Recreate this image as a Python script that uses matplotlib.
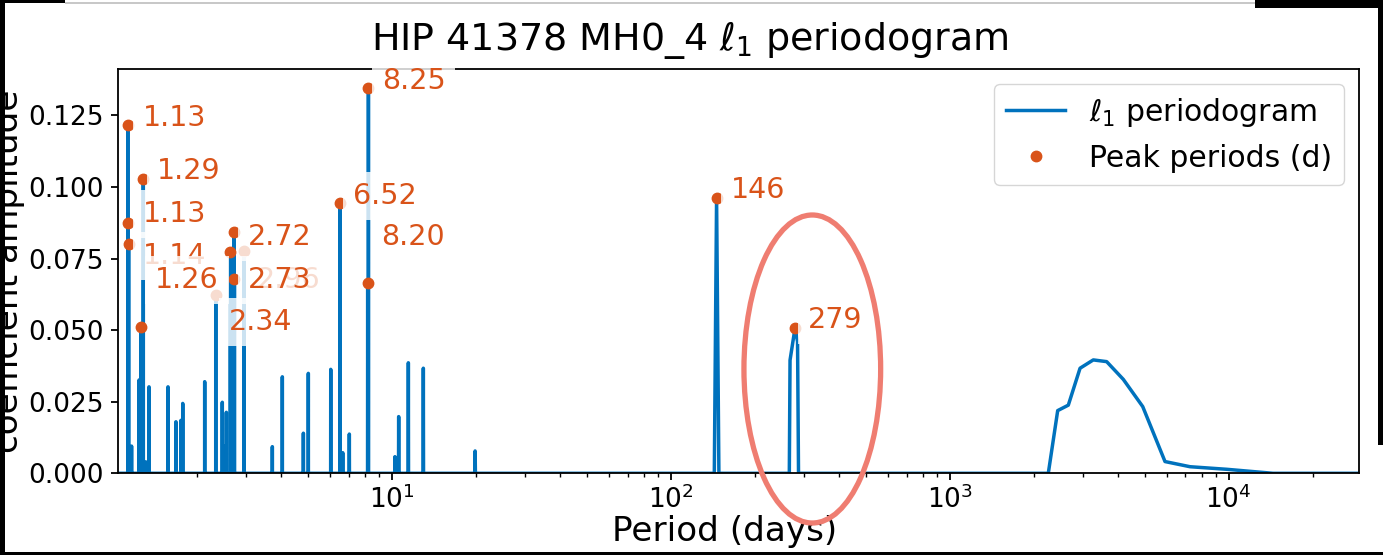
import matplotlib
matplotlib.use("Agg")
import matplotlib.pyplot as plt
from matplotlib.patches import Ellipse, Rectangle

BLUE = "#0072BD"
ORANGE = "#D95319"

# ends of the period grid (days)
period_range = [1.047, 29380.0]

# single-frequency peaks of the l1 periodogram: period (d), amplitude
spike_periods = [1.132, 1.134, 1.140, 1.168, 1.243, 1.263, 1.287, 1.313, 1.349,
                 1.578, 1.685, 1.756, 1.782, 2.136, 2.340, 2.470, 2.506, 2.554,
                 2.640, 2.720, 2.730, 2.960, 3.733, 4.054, 4.823, 5.024, 6.045,
                 6.520, 6.674, 7.047, 8.200, 8.250, 10.27, 10.59, 11.47, 12.98,
                 19.90, 146.0]
spike_amps = [0.1215, 0.0873, 0.0801, 0.0095, 0.0326, 0.0512, 0.1028, 0.0040, 0.0302,
              0.0302, 0.0180, 0.0185, 0.0244, 0.0320, 0.0623, 0.0248, 0.0095, 0.0213,
              0.0774, 0.0844, 0.0677, 0.0777, 0.0093, 0.0337, 0.0140, 0.0349, 0.0363,
              0.0945, 0.0072, 0.0137, 0.0663, 0.1344, 0.0058, 0.0198, 0.0386, 0.0367,
              0.0078, 0.0962]

# resolved peak around 279 d
p279_periods = [266.1, 267.7, 279.0, 284.8, 287.1]
p279_amps = [0.0, 0.0395, 0.0508, 0.0460, 0.0]

# long-period trend component
trend_periods = [2256, 2438, 2661, 2932, 3270, 3652, 4190, 4918, 5911, 7265, 9835, 14413]
trend_amps = [0.0, 0.0219, 0.0238, 0.0367, 0.0396, 0.0390, 0.0328, 0.0233,
              0.0041, 0.0023, 0.0014, 0.0]

# detected peak periods (d) and their amplitudes
peak_periods = [1.132, 1.134, 1.140, 1.287, 1.263, 2.340, 2.720, 2.640, 2.960, 2.730,
                6.520, 8.250, 8.200, 146.0, 279.0]
peak_amps = [0.1215, 0.0873, 0.0801, 0.1028, 0.0512, 0.0623, 0.0844, 0.0774, 0.0777,
             0.0677, 0.0945, 0.1344, 0.0663, 0.0962, 0.0508]
# where each peak's label sits (period, amplitude); None = unlabelled
label_pos = [(1.281, 0.1240), (1.281, 0.0906), (1.287, 0.0760), (1.445, 0.1057),
             (1.418, 0.0674), (2.618, 0.0528), (3.062, 0.0825), None,
             (3.282, 0.0674), (3.062, 0.0674), (7.248, 0.0969), (9.208, 0.1369),
             (9.154, 0.0825), (164.1, 0.0989), (311.3, 0.0535)]

# frequency step of the periodogram grid (cycles/day)
df = 1.3e-4


def build_curve():
    pts = [(period_range[0], 0.0), (period_range[1], 0.0)]
    for p, a in zip(spike_periods, spike_amps):
        f = 1.0 / p
        pts += [(1.0 / (f + df), 0.0), (p, a), (1.0 / (f - df), 0.0)]
    pts += list(zip(p279_periods, p279_amps))
    pts += list(zip(trend_periods, trend_amps))
    pts.sort(key=lambda t: t[0])
    return [t[0] for t in pts], [t[1] for t in pts]


def fmt(p):
    return f"{p:.0f}" if p >= 100 else f"{p:.2f}"


W, H, DPI = 1383, 555, 100
fig = plt.figure(figsize=(W / DPI, H / DPI), dpi=DPI)
ax = fig.add_axes([118.3 / W, 1 - 473.3 / H, (1359.3 - 118.3) / W, (473.3 - 69) / H])

xs, ys = build_curve()
ax.plot(xs, ys, color=BLUE, lw=2.5, label=r"$\ell_1$ periodogram", zorder=2)
ax.plot(peak_periods, peak_amps, "o", color=ORANGE, ms=7.5, ls="none",
        label="Peak periods (d)", zorder=2.1)

for p, a, pos in zip(peak_periods, peak_amps, label_pos):
    if pos is None:
        continue
    ax.text(pos[0], pos[1], fmt(p), color=ORANGE, fontsize=20.5, ha="left",
            va="center", zorder=3,
            bbox=dict(boxstyle="square,pad=0.35", facecolor="white",
                      edgecolor="none", alpha=0.8))

ax.set_xscale("log")
ax.set_xlim(period_range[0], period_range[1])
ax.set_ylim(0, 0.1412)
ax.set_yticks([0.0, 0.025, 0.05, 0.075, 0.1, 0.125])
ax.yaxis.set_major_formatter(matplotlib.ticker.FormatStrFormatter("%.3f"))

for s in ax.spines.values():
    s.set_linewidth(1.3)
ax.tick_params(axis="both", which="major", length=4.8, width=1.3, labelsize=19)
ax.tick_params(axis="both", which="minor", length=2.9, width=1.0)
ax.tick_params(axis="y", pad=6)
ax.tick_params(axis="x", pad=4)

ax.set_xlabel("Period (days)", fontsize=24.7, va="baseline")
ax.xaxis.set_label_coords(0.4885, -(541 - 473.3) / (473.3 - 69))
ax.set_ylabel("coefficient amplitude", fontsize=24.7)
ax.yaxis.set_label_coords((25 - 118.3) / (1359.3 - 118.3), 0.5)

leg = ax.legend(loc="upper right", fontsize=21.5)

fig.text(0.499, 1 - 50 / H, r"HIP 41378 MH0_4 $\ell_1$ periodogram",
         ha="center", va="baseline", fontsize=27.4)

# highlight around the 279 d peak
fig.add_artist(Ellipse((812.3 / DPI, (H - 369) / DPI), 136.7 / DPI, 308 / DPI,
                       transform=fig.dpi_scale_trans, fill=False,
                       edgecolor="#EF7D71", lw=3.8, zorder=20))

# frame around the image
def px_rect(x0, y0, w, h, color):
    fig.add_artist(Rectangle((x0 / DPI, (H - y0 - h) / DPI), w / DPI, h / DPI,
                             transform=fig.dpi_scale_trans, facecolor=color,
                             edgecolor="none", zorder=30))

px_rect(65, 2, 1190, 1.5, "#C8C8C8")
px_rect(0, 0, 5, H, "black")
px_rect(0, H - 3, W, 3, "black")
px_rect(0, 0, 65, 3, "black")
px_rect(1255, 0, W - 1255, 8, "black")
px_rect(1378, 0, 5, 445, "black")

fig.savefig("out.png", dpi=DPI)
